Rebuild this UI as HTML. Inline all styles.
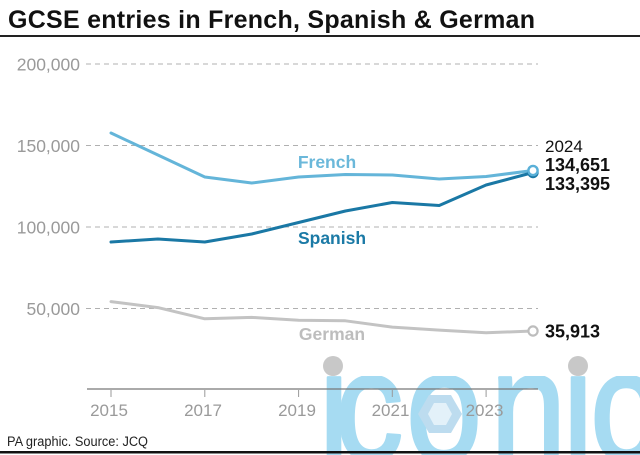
<!DOCTYPE html>
<html><head><meta charset="utf-8"><style>
html,body{margin:0;padding:0;background:#fff;width:640px;height:455px;overflow:hidden;}
svg{display:block;}
</style></head><body>
<svg width="640" height="455" viewBox="0 0 640 455" xmlns="http://www.w3.org/2000/svg" font-family="'Liberation Sans', Arial, sans-serif">
<defs>
<linearGradient id="wm" gradientUnits="userSpaceOnUse" x1="0" y1="-200" x2="0" y2="0">
<stop offset="0" stop-color="#a6dbf2" stop-opacity="0"/><stop offset="0.65" stop-color="#a6dbf2" stop-opacity="0"/>
<stop offset="0.65" stop-color="#a6dbf2" stop-opacity="1"/><stop offset="1" stop-color="#a6dbf2" stop-opacity="1"/>
</linearGradient>
<pattern id="wmp" patternUnits="userSpaceOnUse" x="0" y="0" width="640" height="455">
<g transform="translate(0,460) scale(1.05,1.2)">
<text y="0" x="303.7 319.2 386.8 467 536.1 562" font-size="130" fill="url(#wm)" stroke="url(#wm)" stroke-width="2.5" stroke-linejoin="round">iconic</text>
</g>
</pattern>
</defs>
<rect width="640" height="455" fill="#fff"/>

<!-- watermark -->
<rect x="290" y="340" width="350" height="115" fill="url(#wmp)"/>
<circle cx="333" cy="366" r="10" fill="#c8c8c8"/>
<circle cx="578" cy="366" r="10" fill="#c8c8c8"/>
<polygon points="462,414 451,395 429,395 418,414 429,433 451,433" fill="#bddcef"/>
<polygon points="452,414 446,403 434,403 428,414 434,425 446,425" fill="#e3f1f9"/>

<!-- title -->
<text x="8" y="28" font-size="25" font-weight="bold" fill="#111" textLength="527" lengthAdjust="spacing">GCSE entries in French, Spanish &amp; German</text>
<rect x="0" y="35" width="640" height="2" fill="#222"/>

<!-- gridlines -->
<g stroke="#b0b0b0" stroke-width="1" stroke-dasharray="5 4">
<line x1="86" y1="64" x2="538" y2="64"/>
<line x1="86" y1="145.5" x2="538" y2="145.5"/>
<line x1="86" y1="227" x2="538" y2="227"/>
<line x1="86" y1="308.5" x2="538" y2="308.5"/>
</g>
<g font-size="17.5" fill="#9a9a9a" text-anchor="end">
<text x="80" y="70.5">200,000</text>
<text x="80" y="152">150,000</text>
<text x="80" y="233.5">100,000</text>
<text x="80" y="315">50,000</text>
</g>

<!-- x axis -->
<line x1="87" y1="389" x2="538" y2="389" stroke="#777" stroke-width="1.2"/>
<g stroke="#999" stroke-width="1">
<line x1="111" y1="390" x2="111" y2="397"/>
<line x1="204.8" y1="390" x2="204.8" y2="397"/>
<line x1="298.6" y1="390" x2="298.6" y2="397"/>
<line x1="392.3" y1="390" x2="392.3" y2="397"/>
<line x1="486.1" y1="390" x2="486.1" y2="397"/>
</g>
<g font-size="17" fill="#9a9a9a" text-anchor="middle">
<text x="109" y="416">2015</text>
<text x="203" y="416">2017</text>
<text x="297" y="416">2019</text>
<text x="390.5" y="416">2021</text>
<text x="484.5" y="416">2023</text>
</g>

<!-- series -->
<g fill="none" stroke-width="3" stroke-linejoin="round" stroke-linecap="round">
<polyline stroke="#c3c3c3" points="111,301.6 157.9,307.6 204.8,318.8 251.7,317.4 298.6,320.2 345.4,320.8 392.3,327.1 439.2,330.1 486.1,332.8 533,331"/>
<polyline stroke="#64b5d9" points="111,133 157.9,155 204.8,177 251.7,183 298.6,177 345.4,174.5 392.3,175 439.2,179 486.1,176.5 533,170.5"/>
<polyline stroke="#1a78a5" points="111,242 157.9,239 204.8,242 251.7,234 298.6,222.5 345.4,211 392.3,202.5 439.2,205.5 486.1,185 533,172.5"/>
</g>
<circle cx="533" cy="331" r="4.6" fill="#fff" stroke="#bdbdbd" stroke-width="2.2"/>
<circle cx="533" cy="172.5" r="4.6" fill="#fff" stroke="#1a78a5" stroke-width="2.2"/>
<circle cx="533" cy="170.5" r="4.6" fill="#fff" stroke="#5ab0d8" stroke-width="2.4"/>

<!-- series labels -->
<g font-size="17.5" font-weight="bold" text-anchor="middle">
<text x="327" y="168" fill="#6bb8da">French</text>
<text x="332" y="244" fill="#1b7aa6">Spanish</text>
<text x="332" y="340" fill="#bdbdbd">German</text>
</g>

<!-- end labels -->
<text x="545" y="152" font-size="17" fill="#111">2024</text>
<g font-size="18" font-weight="bold" fill="#111">
<text x="545" y="171">134,651</text>
<text x="545" y="190">133,395</text>
<text x="545" y="337.5">35,913</text>
</g>

<!-- footer -->
<text x="7" y="446" font-size="13.5" fill="#222" textLength="141" lengthAdjust="spacingAndGlyphs">PA graphic. Source: JCQ</text>
<rect x="0" y="451" width="640" height="2.5" fill="#111"/>
</svg>
</body></html>
